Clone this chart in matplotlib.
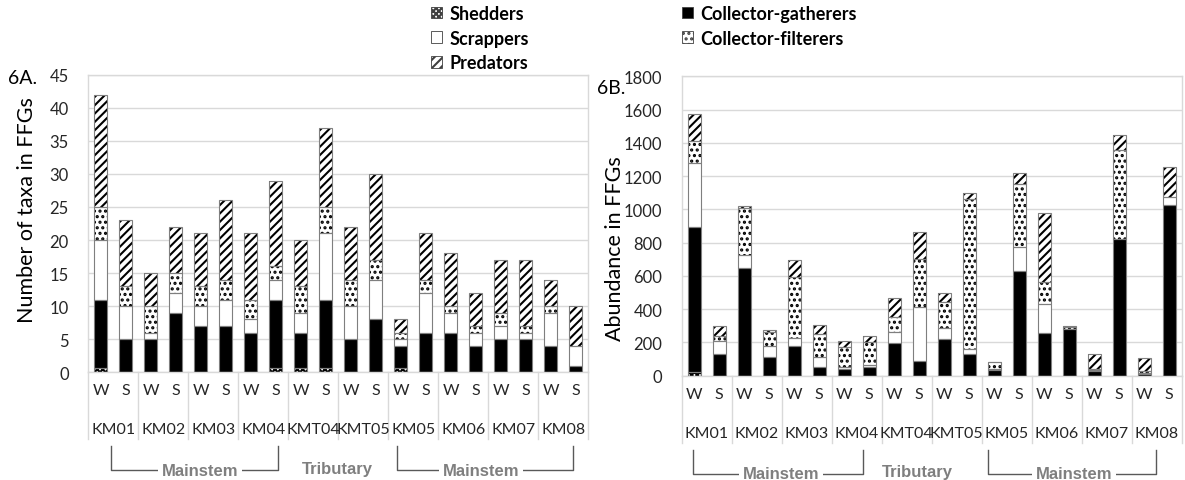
import numpy as np
import matplotlib
matplotlib.use("Agg")
import matplotlib.pyplot as plt
import matplotlib.transforms as mtransforms
from matplotlib.patches import Patch
from matplotlib.lines import Line2D

plt.rcParams['font.family'] = ['Lato', 'DejaVu Sans']
plt.rcParams['hatch.linewidth'] = 1.5

W_PX, H_PX = 1185, 481

sites = ["KM01", "KM02", "KM03", "KM04", "KMT04", "KMT05", "KM05", "KM06", "KM07", "KM08"]
seasons = ["W", "S"]

# 6A - number of taxa in each FFG (segment sizes, bars ordered KM01 W, KM01 S, KM02 W, ...)
taxa_shedders = [0.6, 0, 0, 0, 0, 0, 0, 0.6, 0.6, 0.6, 0, 0, 0.6, 0, 0, 0, 0, 0, 0, 0]
taxa_gatherers = [10.4, 5, 5, 9, 7, 7, 6, 10.4, 5.4, 10.4, 5, 8, 3.4, 6, 6, 4, 5, 5, 4, 1]
taxa_scrappers = [9, 5, 1, 3, 3, 4, 2, 3, 3, 10, 5, 6, 1, 6, 3, 2, 2, 1, 5, 3]
taxa_filterers = [5, 3, 4, 3, 3, 3, 3, 2, 4, 4, 4, 3, 1, 2, 1, 1, 2, 1, 1, 0]
taxa_predators = [17, 10, 5, 7, 8, 12, 10, 13, 7, 12, 8, 13, 2, 7, 8, 5, 8, 10, 4, 6]

# 6B - abundance in each FFG
abund_shedders = [20, 0, 0, 0, 0, 0, 0, 0, 0, 0, 0, 0, 0, 0, 0, 0, 0, 0, 0, 0]
abund_gatherers = [875, 130, 650, 114, 176, 54, 40, 54, 194, 90, 220, 132, 32, 628, 256, 280, 28, 824, 10, 1028]
abund_scrappers = [385, 80, 76, 62, 50, 56, 10, 12, 66, 326, 68, 28, 8, 148, 178, 0, 4, 0, 8, 48]
abund_filterers = [130, 26, 280, 84, 370, 140, 120, 138, 90, 284, 156, 900, 40, 378, 130, 12, 6, 530, 8, 0]
abund_predators = [165, 60, 12, 12, 98, 56, 40, 34, 120, 164, 54, 40, 4, 64, 416, 8, 92, 96, 82, 180]

# fill / hatch for each feeding group
styles = {
    "Shedders": dict(face="white", hatch="xxxxxx"),
    "Collector-gatherers": dict(face="black", hatch=None),
    "Scrappers": dict(face="white", hatch=None),
    "Collector-filterers": dict(face="white", hatch="..."),
    "Predators": dict(face="white", hatch="////"),
}

fig = plt.figure(figsize=(W_PX / 100, H_PX / 100), dpi=100)


def px_to_fig(x, y):
    """Convert a pixel position (origin top left) into figure fraction."""
    return x / W_PX, 1 - y / H_PX


def draw_panel(ax, stacks, ymax, ystep, brackets):
    """
    Draw one stacked bar panel with the two-level category axis.

    Args:
        ax: target axes
        stacks (list): (group name, values) from bottom to top
        ymax, ystep: y axis range and step
        brackets (dict): positions of the Mainstem / Tributary annotations
    """
    x = np.arange(len(sites) * len(seasons))
    bottom = np.zeros(len(x))
    for name, vals in stacks:
        vals = np.asarray(vals, dtype=float)
        st = styles[name]
        keep = vals > 0
        ax.bar(x[keep], vals[keep], bottom=bottom[keep], width=0.53, color=st["face"],
               hatch=st["hatch"], edgecolor="black", linewidth=0, zorder=2)
        ax.bar(x[keep], vals[keep], bottom=bottom[keep], width=0.53, facecolor="none",
               edgecolor="#7f7f7f", linewidth=0.8, zorder=3)
        bottom += vals

    ax.set_xlim(-0.5, len(x) - 0.5)
    ax.set_ylim(0, ymax)
    ax.set_yticks(np.arange(0, ymax + 1, ystep))
    ax.yaxis.grid(True, color="#d9d9d9", linewidth=1.0)
    ax.set_axisbelow(True)
    for s in ax.spines.values():
        s.set_color("#d9d9d9")
        s.set_linewidth(1.0)
    ax.tick_params(axis="y", length=0, pad=14, labelsize=12, labelcolor="#262626")

    # season labels (first row)
    ax.set_xticks(x)
    ax.set_xticklabels(seasons * len(sites))
    ax.tick_params(axis="x", length=0, pad=8, labelsize=11.5, labelcolor="#262626")

    ax_h = ax.get_position().height * H_PX
    trans = mtransforms.blended_transform_factory(ax.transData, ax.transAxes)

    # site labels (second row)
    for i, site in enumerate(sites):
        ax.text(2 * i + 0.5, -57 / ax_h, site, transform=trans, ha="center", va="center",
                fontsize=11.5, color="#262626")

    # group separators
    for b in np.arange(-0.5, len(x), 2):
        ax.add_line(Line2D([b, b], [0, -67 / ax_h], transform=trans, color="#d9d9d9",
                           linewidth=1.0, clip_on=False))

    # Mainstem / Tributary brackets
    y_top, y_bot = -74 / ax_h, -98 / ax_h
    for x0, x1, xt in brackets["mainstem"]:
        ax.add_line(Line2D([x0, x0, x1, x1], [y_top, y_bot, y_bot, y_top], transform=trans,
                           color="#595959", linewidth=1.0, clip_on=False))
        ax.text(xt, y_bot, "Mainstem", transform=trans, ha="center", va="center",
                fontsize=12, fontweight="bold", color="#7f7f7f", family=["Liberation Sans"],
                bbox=dict(facecolor="white", edgecolor="none", pad=2.5))
    ax.text(brackets["tributary"], y_bot + 2 / ax_h, "Tributary", transform=trans, ha="center",
            va="center", fontsize=12, fontweight="bold", color="#7f7f7f",
            family=["Liberation Sans"])


# left panel: number of taxa
ax1 = fig.add_axes([88.3 / W_PX, 1 - 373.3 / H_PX, 500 / W_PX, 297.6 / H_PX])
draw_panel(ax1,
           [("Shedders", taxa_shedders), ("Collector-gatherers", taxa_gatherers),
            ("Scrappers", taxa_scrappers), ("Collector-filterers", taxa_filterers),
            ("Predators", taxa_predators)],
           45, 5,
           {"mainstem": [(0.41, 7.08, 3.97), (11.84, 18.88, 15.2)], "tributary": 9.47})

# right panel: abundance
ax2 = fig.add_axes([681.7 / W_PX, 1 - 376.7 / H_PX, 500 / W_PX, 299.4 / H_PX])
draw_panel(ax2,
           [("Shedders", abund_shedders), ("Collector-gatherers", abund_gatherers),
            ("Scrappers", abund_scrappers), ("Collector-filterers", abund_filterers),
            ("Predators", abund_predators)],
           1800, 200,
           {"mainstem": [(-0.04, 6.76, 3.47), (11.76, 18.49, 15.19)], "tributary": 8.93})

# axis titles and panel tags
fig.text(*px_to_fig(27.5, 210), "Number of taxa in FFGs", rotation=90, ha="center", va="center",
         fontsize=15.5, color="black")
fig.text(*px_to_fig(615, 249), "Abundance in FFGs", rotation=90, ha="center", va="center",
         fontsize=15.5, color="black")
fig.text(*px_to_fig(8, 79), "6A.", ha="left", va="center", fontsize=14, color="black")
fig.text(*px_to_fig(597, 89), "6B.", ha="left", va="center", fontsize=14, color="black")

# legend in two blocks
def legend_handle(name):
    st = styles[name]
    return Patch(facecolor=st["face"], hatch=st["hatch"], edgecolor="#404040", linewidth=0.6)

col1 = ["Shedders", "Scrappers", "Predators"]
col2 = ["Collector-gatherers", "Collector-filterers"]
for names, xpos in [(col1, 431), (col2, 682)]:
    fig.legend([legend_handle(n) for n in names], names, loc="upper left",
               bbox_to_anchor=px_to_fig(xpos, 6), frameon=False, borderpad=0,
               borderaxespad=0, handlelength=0.6, handleheight=0.6, handletextpad=0.4,
               labelspacing=0.42, prop=dict(family=["Lato"], weight="bold", size=13))

fig.savefig("out.png", dpi=100)
